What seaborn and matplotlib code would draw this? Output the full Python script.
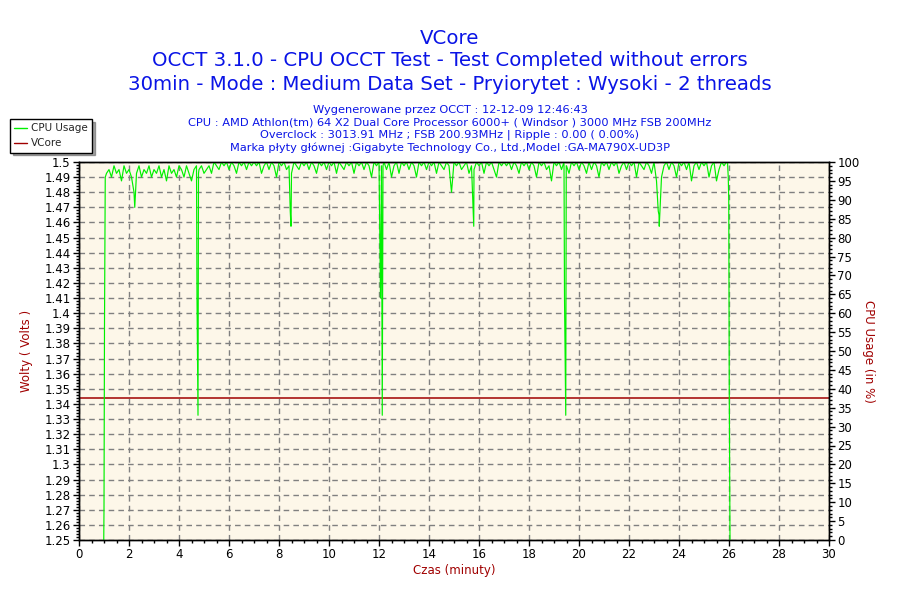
import numpy as np
import pandas as pd
import seaborn as sns
import matplotlib
matplotlib.use("Agg")
import matplotlib.pyplot as plt
from matplotlib.ticker import MultipleLocator, FuncFormatter
from matplotlib.lines import Line2D

# CPU usage (%) sampled every 0.1 min from 1.1 to 25.9 min
cpu_base = [
    97, 98, 96, 99, 97, 98, 95, 99, 97, 98,
    96, 92, 97, 99, 96, 98, 97, 99, 96, 98,
    97, 99, 96, 98, 95, 99, 97, 98, 96, 99,
    98, 96, 99, 97, 95, 98, 99, 98, 99, 97,
    98, 99, 97, 100, 99, 98, 100, 99, 100, 98,
    100, 99, 97, 100, 99, 100, 98, 100, 99, 100,
    99, 100, 97, 99, 100, 98, 100, 99, 96, 100,
    99, 100, 98, 99, 97, 100, 99, 98, 100, 99,
    100, 98, 100, 99, 97, 100, 99, 100, 98, 100,
    99, 100, 97, 100, 99, 98, 100, 99, 100, 97,
    100, 99, 100, 98, 100, 99, 96, 100, 99, 100,
    99, 100, 98, 100, 96, 99, 100, 97, 100, 99,
    100, 98, 100, 99, 96, 100, 99, 100, 98, 100,
    99, 100, 97, 100, 99, 98, 100, 99, 92, 100,
    99, 100, 98, 99, 100, 97, 99, 98, 100, 99,
    100, 97, 100, 99, 100, 98, 96, 100, 99, 100,
    99, 100, 98, 100, 99, 97, 100, 99, 100, 98,
    100, 99, 96, 100, 99, 100, 98, 99, 95, 100,
    99, 100, 98, 100, 99, 97, 100, 99, 100, 98,
    100, 99, 97, 100, 98, 100, 99, 96, 100, 99,
    100, 98, 100, 99, 100, 97, 99, 100, 98, 100,
    99, 100, 96, 100, 99, 98, 100, 99, 97, 100,
    95, 86, 96, 99, 100, 98, 100, 99, 96, 100,
    99, 100, 98, 100, 95, 99, 100, 98, 100, 99,
    100, 96, 99, 100, 95, 98, 100, 99, 100,
]
base_start = 1.1
base_step = 0.1

# extra samples around the start, the deep dips and the end of the test
extra_minutes = [0.99, 1.00, 1.02, 1.05,
                 2.23,
                 4.72, 4.76, 4.78,
                 8.45, 8.48,
                 12.06, 12.13, 12.16,
                 15.76, 15.79,
                 19.42, 19.47, 19.49,
                 23.17, 23.21,
                 25.94, 25.97, 25.99, 26.01, 26.04]
extra_cpu = [0, 8, 57, 96,
             88,
             64, 33, 97,
             87, 83,
             64, 33, 99,
             88, 83,
             64, 33, 99,
             87, 83,
             100, 96, 90, 41, 0]

vcore_minutes = [0, 30]
vcore_volts = [1.344, 1.344]

title_lines = ["VCore",
               "OCCT 3.1.0 - CPU OCCT Test - Test Completed without errors",
               "30min - Mode : Medium Data Set - Pryiorytet : Wysoki - 2 threads"]
info_lines = ["Wygenerowane przez OCCT : 12-12-09 12:46:43",
              "CPU : AMD Athlon(tm) 64 X2 Dual Core Processor 6000+ ( Windsor ) 3000 MHz FSB 200MHz",
              "Overclock : 3013.91 MHz ; FSB 200.93MHz | Ripple : 0.00 ( 0.00%)",
              "Marka płyty głównej :Gigabyte Technology Co., Ltd.,Model :GA-MA790X-UD3P"]

base_minutes = np.round(base_start + base_step * np.arange(len(cpu_base)), 2)
cpu = pd.concat([pd.Series(cpu_base, index=base_minutes),
                 pd.Series(extra_cpu, index=extra_minutes)])
cpu = cpu[~cpu.index.duplicated(keep="last")].sort_index()
cpu_df = pd.DataFrame({"minute": cpu.index, "usage": cpu.values})
vcore_df = pd.DataFrame({"minute": vcore_minutes, "volts": vcore_volts})

sns.set_style("white")
plt.rcParams["font.family"] = ["DejaVu Sans"]

GREEN = "#00f000"
DARKRED = "#a00000"
BLUE = "#0a14e6"
CREAM = "#fdf7e9"

fig = plt.figure(figsize=(9, 6), dpi=100)
ax = fig.add_axes([79 / 900, 60 / 600, 750 / 900, 378 / 600])
ax.set_facecolor(CREAM)
ax2 = ax.twinx()

sns.lineplot(data=vcore_df, x="minute", y="volts", ax=ax, color=DARKRED, lw=1.1)
sns.lineplot(data=cpu_df, x="minute", y="usage", ax=ax2, color=GREEN, lw=0.85,
             estimator=None, sort=False)

ax.set_xlim(0, 30)
ax.set_ylim(1.25, 1.5)
ax2.set_ylim(0, 100)

ax.xaxis.set_major_locator(MultipleLocator(2))
ax.xaxis.set_minor_locator(MultipleLocator(0.5))
ax.yaxis.set_major_locator(MultipleLocator(0.01))
ax.yaxis.set_minor_locator(MultipleLocator(0.002))
ax.yaxis.set_major_formatter(FuncFormatter(lambda v, p: "{:g}".format(round(v, 2))))
ax2.yaxis.set_major_locator(MultipleLocator(5))
ax2.yaxis.set_minor_locator(MultipleLocator(1))

ax.grid(True, which="major", color="#808080", linestyle=(0, (4, 3)), lw=1)
for a in (ax, ax2):
    a.tick_params(which="major", direction="out", length=4, width=1, labelsize=8.5,
                  colors="black", pad=2)
    a.tick_params(which="minor", direction="out", length=2, width=1, colors="black")
    for s in a.spines.values():
        s.set_color("black")
        s.set_linewidth(1)
ax.tick_params(axis="y", which="both", left=True)
ax.tick_params(axis="x", which="both", bottom=True)
ax2.tick_params(axis="y", which="both", right=True)

ax.set_xlabel("Czas (minuty)", color=DARKRED, fontsize=8.5, labelpad=2)
ax.set_ylabel("Wolty ( Volts )", color=DARKRED, fontsize=8.5, labelpad=8)
ax2.set_ylabel("CPU Usage (in %)", color=DARKRED, fontsize=8.5, rotation=-90,
               labelpad=11)

for i, line in enumerate(title_lines):
    fig.text(0.5, 1 - (38 + 23 * i) / 600, line, ha="center", va="center",
             color=BLUE, fontsize=14.2)
for i, line in enumerate(info_lines):
    fig.text(0.5, 1 - (110 + 12.5 * i) / 600, line, ha="center", va="center",
             color=BLUE, fontsize=8.2)

handles = [Line2D([], [], color=GREEN, lw=1), Line2D([], [], color=DARKRED, lw=1)]
leg = fig.legend(handles, ["CPU Usage", "VCore"], loc="upper left",
                 bbox_to_anchor=(10 / 900, 1 - 119 / 600), fontsize=7.5,
                 frameon=True, fancybox=False, shadow=True, handlelength=1.2,
                 handletextpad=0.4, borderpad=0.4, labelspacing=0.5,
                 borderaxespad=0)
leg.get_frame().set_edgecolor("black")
leg.get_frame().set_linewidth(1)

fig.savefig("out.png", dpi=100, facecolor="white")
